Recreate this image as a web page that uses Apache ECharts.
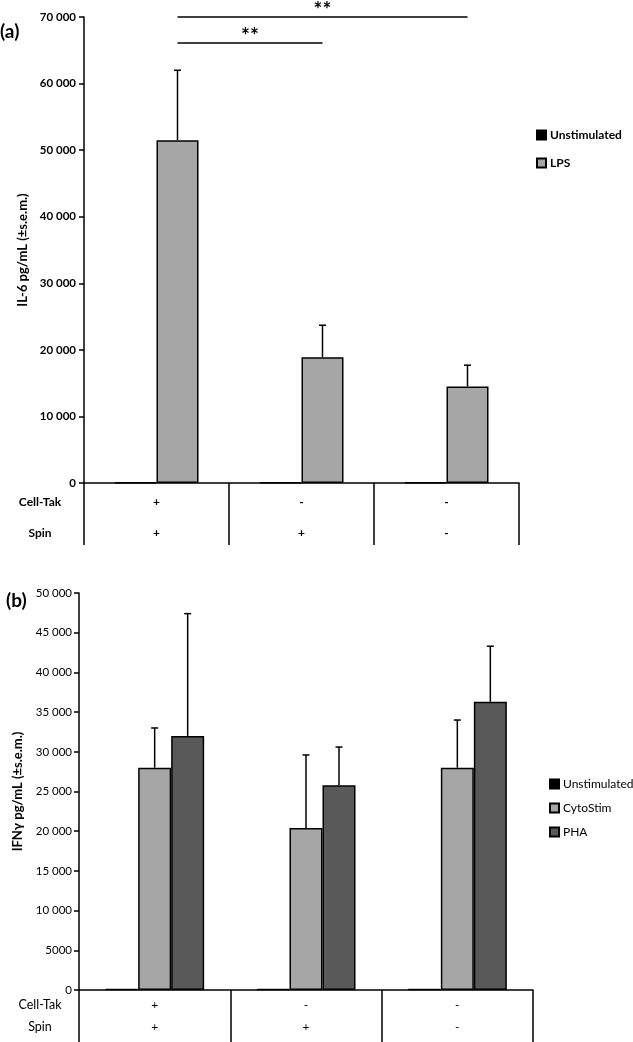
<!DOCTYPE html>
<html><head><meta charset="utf-8">
<script src="https://cdn.jsdelivr.net/npm/echarts@6/dist/echarts.min.js"></script>
<style>html,body{margin:0;padding:0;background:#fff}#c{width:633px;height:1042px}</style>
</head><body><div id="c"></div>
<script>
// ---- shared category rows ----
const cellTak = ['+', '-', '-'];
const spin = ['+', '+', '-'];
const rowNames = ['Cell-Tak', 'Spin'];

// ---- panel (a) IL-6 ----
const il6Unstim = [100, 100, 100];
const il6LPS = [51500, 18900, 14500];
const il6LPSErr = [10500, 4800, 3200];
const il6Max = 70000, il6Step = 10000;
const sigPairs = [[0, 1], [0, 2]];
const sigLevels = [66100, 70000];
const sigLabels = ['**', '**'];

// ---- panel (b) IFNγ ----
const ifnUnstim = [100, 100, 100];
const ifnCyto = [28000, 20400, 28000];
const ifnCytoErr = [5000, 9200, 6000];
const ifnPHA = [32000, 25800, 36300];
const ifnPHAErr = [15400, 4800, 7000];
const ifnMax = 50000, ifnStep = 5000;

const FONT = 'Lato, "Liberation Sans", sans-serif';
const BW_A = 42, BW_B = 33;
const cats = cellTak.map((c, i) => c + '\n' + spin[i]);
const fmt = v => v >= 10000 ? String(v).replace(/\B(?=(\d{3})+(?!\d))/g, ' ') : String(v);
const C_UN = '#000000', C_GRAY = '#a6a6a6', C_DARK = '#595959';

function barSeries(name, xi, data, color, bw) {
  return { type: 'bar', name, xAxisIndex: xi, yAxisIndex: xi, data, barWidth: bw, barGap: '0%',
    itemStyle: { color, borderColor: '#000', borderWidth: 1.5 } };
}
function errSeries(name, xi, vals, errs, k, n, bw) {
  return {
    type: 'custom', name, xAxisIndex: xi, yAxisIndex: xi, z: 5, silent: true,
    encode: { x: 0, y: 1 },
    data: vals.map((v, i) => [i, v, errs[i]]),
    renderItem(params, api) {
      const i = api.value(0), v = api.value(1), e = api.value(2);
      const p0 = api.coord([i, v]), p1 = api.coord([i, v + e]);
      const x = p0[0] - n * bw / 2 + bw * (k + 0.5);
      return { type: 'group', children: [
        { type: 'line', shape: { x1: x, y1: p0[1], x2: x, y2: p1[1] }, style: { stroke: '#000', lineWidth: 1.5 } },
        { type: 'line', shape: { x1: x - 3.5, y1: p1[1], x2: x + 3.5, y2: p1[1] }, style: { stroke: '#000', lineWidth: 1.5 } }
      ] };
    }
  };
}
const axisLineStyle = { color: '#000', width: 1.5 };

const chart = echarts.init(document.getElementById('c'), null, { renderer: 'canvas' });
const option = {
  animation: false,
  backgroundColor: '#fff',
  grid: [
    { left: 84, top: 17, width: 435, height: 466 },
    { left: 79, top: 593, width: 454, height: 397 }
  ],
  xAxis: [
    { type: 'category', gridIndex: 0, data: cats,
      axisLine: { lineStyle: axisLineStyle },
      axisTick: { show: true, length: 62, lineStyle: axisLineStyle },
      axisLabel: { color: '#000', fontFamily: FONT, fontSize: 12, fontWeight: 'bold', lineHeight: 31, margin: 4 } },
    { type: 'category', gridIndex: 1, data: cats,
      axisLine: { lineStyle: axisLineStyle },
      axisTick: { show: true, length: 52, lineStyle: axisLineStyle },
      axisLabel: { color: '#000', fontFamily: FONT, fontSize: 12, lineHeight: 22, margin: 4 } }
  ],
  yAxis: [
    { type: 'value', gridIndex: 0, min: 0, max: il6Max, interval: il6Step,
      name: 'IL-6 pg/mL (±s.e.m.)', nameLocation: 'middle', nameGap: 48,
      nameTextStyle: { color: '#000', fontFamily: FONT, fontSize: 13, fontWeight: 'bold' },
      axisLine: { show: true, lineStyle: axisLineStyle },
      axisTick: { show: true, length: 5, lineStyle: axisLineStyle },
      splitLine: { show: false },
      axisLabel: { formatter: fmt, color: '#000', fontFamily: FONT, fontSize: 11.5, fontWeight: 'bold', margin: 8 } },
    { type: 'value', gridIndex: 1, min: 0, max: ifnMax, interval: ifnStep,
      name: 'IFNγ pg/mL (±s.e.m.)', nameLocation: 'middle', nameGap: 41,
      nameTextStyle: { color: '#000', fontFamily: FONT, fontSize: 13, fontWeight: 'bold' },
      axisLine: { show: true, lineStyle: axisLineStyle },
      axisTick: { show: true, length: 5, lineStyle: axisLineStyle },
      splitLine: { show: false },
      axisLabel: { formatter: fmt, color: '#000', fontFamily: FONT, fontSize: 11.5, margin: 7 } }
  ],
  legend: [
    { data: ['Unstimulated', 'LPS'], orient: 'vertical', left: 531, top: 124, itemWidth: 9, itemHeight: 9,
      itemGap: 16, icon: 'rect', selectedMode: false,
      textStyle: { color: '#000', fontFamily: FONT, fontSize: 12, fontWeight: 'bold', padding: [0, 0, 0, -1] } },
    { data: ['Unstimulated', 'CytoStim', 'PHA'], orient: 'vertical', left: 544, top: 773, itemWidth: 9, itemHeight: 9,
      itemGap: 12, icon: 'rect', selectedMode: false,
      textStyle: { color: '#000', fontFamily: FONT, fontSize: 12, padding: [0, 0, 0, -1] } }
  ],
  series: [
    barSeries('Unstimulated', 0, il6Unstim, C_UN, BW_A),
    barSeries('LPS', 0, il6LPS, C_GRAY, BW_A),
    errSeries('LPS err', 0, il6LPS, il6LPSErr, 1, 2, BW_A),
    barSeries('Unstimulated', 1, ifnUnstim, C_UN, BW_B),
    barSeries('CytoStim', 1, ifnCyto, C_GRAY, BW_B),
    barSeries('PHA', 1, ifnPHA, C_DARK, BW_B),
    errSeries('CytoStim err', 1, ifnCyto, ifnCytoErr, 1, 3, BW_B),
    errSeries('PHA err', 1, ifnPHA, ifnPHAErr, 2, 3, BW_B)
  ]
};
chart.setOption(option);

// annotations: panel letters, row headers, significance brackets
const g = [];
g.push({ type: 'text', x: 0, y: 32, style: { text: '(a)', font: 'bold 19px ' + FONT, fill: '#000', textVerticalAlign: 'middle' } });
g.push({ type: 'text', x: 6, y: 601, style: { text: '(b)', font: 'bold 19px ' + FONT, fill: '#000', textVerticalAlign: 'middle' } });
const rowYA = [502, 533], rowYB = [1005, 1027];
rowNames.forEach((t, j) => {
  g.push({ type: 'text', x: 40, y: rowYA[j], style: { text: t, font: 'bold 12px ' + FONT, fill: '#000', textAlign: 'center', textVerticalAlign: 'middle' } });
  g.push({ type: 'text', x: 40, y: rowYB[j], style: { text: t, font: '12.5px ' + FONT, fill: '#000', textAlign: 'center', textVerticalAlign: 'middle' } });
});
sigPairs.forEach((p, j) => {
  const y = chart.convertToPixel({ yAxisIndex: 0 }, sigLevels[j]);
  const x1 = chart.convertToPixel({ xAxisIndex: 0 }, p[0]) + BW_A / 2;
  const x2 = chart.convertToPixel({ xAxisIndex: 0 }, p[1]) + BW_A / 2;
  g.push({ type: 'line', shape: { x1, y1: y, x2, y2: y }, style: { stroke: '#000', lineWidth: 1.5 } });
  g.push({ type: 'text', x: (x1 + x2) / 2, y: y - 7, style: { text: sigLabels[j], font: 'bold 21px ' + FONT, fill: '#000', textAlign: 'center', textVerticalAlign: 'middle' } });
});
chart.setOption({ graphic: g });
</script>
</body></html>
